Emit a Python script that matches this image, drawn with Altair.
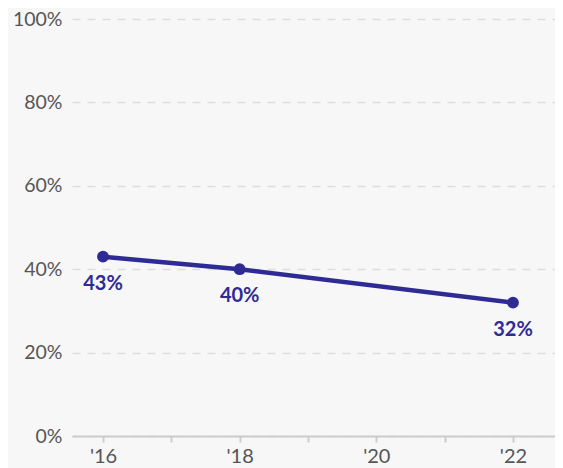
import altair as alt
import pandas as pd

years = [2016, 2018, 2022]
values = [43, 40, 32]
labels = ["43%", "40%", "32%"]

df = pd.DataFrame({"year": years, "value": values, "label": labels})

color = "#2e2b95"
font = "Lato"

x = alt.X("year:Q", scale=alt.Scale(domain=[2015.546, 2022.615], nice=False, zero=False),
          axis=alt.Axis(values=[2016, 2017, 2018, 2019, 2020, 2021, 2022],
                        labelExpr="datum.value % 2 == 0 ? \"'\" + substring(toString(datum.value), 2) : ''",
                        grid=False, title=None, domainColor="#cccccc", domainWidth=2,
                        tickColor="#cccccc", tickSize=6, tickWidth=2,
                        labelFont=font, labelFontSize=20, labelColor="#555555",
                        labelPadding=4))
y = alt.Y("value:Q", scale=alt.Scale(domain=[0, 100], nice=False),
          axis=alt.Axis(values=[0, 20, 40, 60, 80, 100], labelExpr="datum.value + '%'",
                        title=None, domain=False, ticks=False, grid=True,
                        gridColor="#dddddd", gridDash=[8, 7], gridWidth=1.5,
                        labelFont=font, labelFontSize=19.5, labelColor="#555555",
                        labelPadding=10))

base = alt.Chart(df)
line = base.mark_line(color=color, strokeWidth=4.5).encode(x=x, y=y)
pts = base.mark_point(color=color, filled=True, opacity=1, size=140).encode(x=x, y=y)
txt = base.mark_text(color=color, font=font, fontSize=20, fontWeight="bold", dy=27,
                     baseline="middle").encode(x=x, y=y, text="label:N")

chart = (line + pts + txt).properties(
    width=483, height=417,
    autosize=alt.AutoSizeParams(type="none"),
    padding={"left": 64, "top": 11, "right": 0, "bottom": 35},
    background="#f7f7f7",
).configure_view(stroke=None)

chart.save("out.html", embed_options={"renderer": "svg", "actions": False})
